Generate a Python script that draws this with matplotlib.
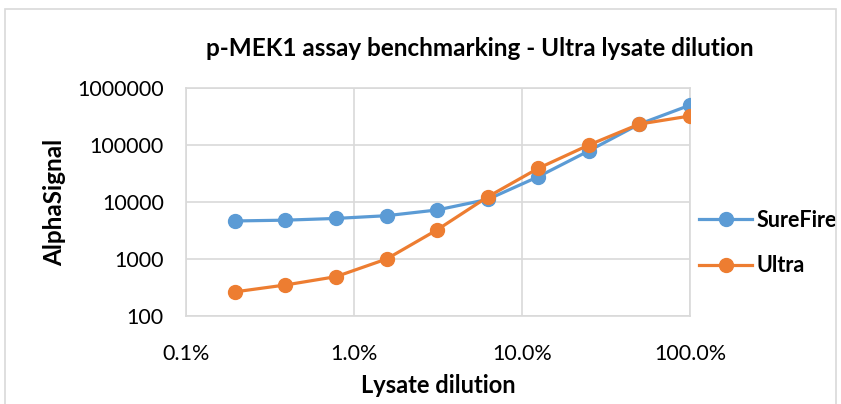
import matplotlib
matplotlib.use("Agg")
import matplotlib.pyplot as plt
from matplotlib.patches import Rectangle
from matplotlib.ticker import FuncFormatter, FixedLocator

plt.rcParams['font.family'] = ['Lato', 'DejaVu Sans']

# data
dilution = [0.001953125, 0.00390625, 0.0078125, 0.015625, 0.03125,
            0.0625, 0.125, 0.25, 0.5, 1.0]
surefire = [4650, 4800, 5150, 5750, 7250, 11100, 27800, 79000, 233000, 500000]
ultra = [265, 350, 490, 1000, 3250, 12300, 39000, 100000, 233000, 323000]

blue = '#5B9BD5'
orange = '#ED7D31'
grid_col = '#D9D9D9'

fig = plt.figure(figsize=(8.41, 4.04), dpi=100)
ax = fig.add_axes([186 / 841, 1 - 316 / 404, 504 / 841, 228 / 404])

# chart border
fig.patches.append(Rectangle((5 / 841, -0.1), 831 / 841, 1 - 9 / 404 + 0.1,
                             transform=fig.transFigure, fill=False,
                             edgecolor=grid_col, linewidth=1.2))

ax.plot(dilution, surefire, color=blue, linewidth=2.3, marker='o',
        markersize=10, label='SureFire', zorder=3)
ax.plot(dilution, ultra, color=orange, linewidth=2.3, marker='o',
        markersize=10, label='Ultra', zorder=4)

ax.set_xscale('log')
ax.set_yscale('log')
ax.set_xlim(0.001, 1)
ax.set_ylim(100, 1e6)
ax.xaxis.set_major_locator(FixedLocator([0.001, 0.01, 0.1, 1]))
ax.yaxis.set_major_locator(FixedLocator([100, 1000, 10000, 100000, 1000000]))
ax.xaxis.set_minor_locator(FixedLocator([]))
ax.yaxis.set_minor_locator(FixedLocator([]))
ax.xaxis.set_major_formatter(FuncFormatter(lambda v, p: f'{v * 100:.1f}%'))
ax.yaxis.set_major_formatter(FuncFormatter(lambda v, p: f'{int(round(v))}'))
ax.tick_params(axis='both', length=0, labelsize=15.5, colors='black')
ax.tick_params(axis='x', pad=20)
ax.tick_params(axis='y', pad=16)

ax.grid(True, color=grid_col, linewidth=1.2)
ax.set_axisbelow(True)
for s in ax.spines.values():
    s.set_color(grid_col)
    s.set_linewidth(1.2)

ax.set_xlabel('Lysate dilution', fontsize=17, fontweight='bold')
ax.xaxis.label.set_va('center')
ax.xaxis.set_label_coords(0.5, -0.307)
ax.set_ylabel('AlphaSignal', fontsize=17.5, fontweight='bold')
ax.yaxis.label.set_va('center')
ax.yaxis.set_label_coords(-0.26, 0.5)

fig.text(480 / 841, 1 - 48 / 404,
         'p-MEK1 assay benchmarking - Ultra lysate dilution',
         ha='center', va='center', fontsize=17.5, fontweight='bold')

leg = ax.legend(loc='center left', bbox_to_anchor=(1.0, 0.32), frameon=False,
                prop={'weight': 'bold', 'size': 15.5},
                handlelength=2.5, handletextpad=0.2, labelspacing=1.15,
                borderaxespad=0.0)

fig.savefig('out.png', dpi=100)
